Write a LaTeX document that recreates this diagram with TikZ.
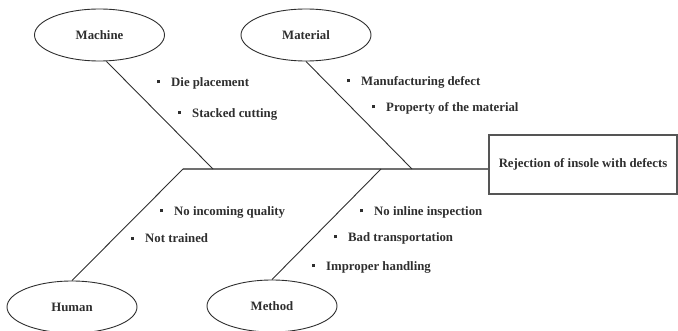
\documentclass[tikz,border=0pt]{standalone}
\usepackage{fontspec}
\setmainfont{Liberation Serif}
\usepackage{xcolor}
\usetikzlibrary{shapes.geometric}
\definecolor{ink}{HTML}{2E2E2E}
\definecolor{spine}{HTML}{707070}
\definecolor{frame}{HTML}{555555}
\tikzset{
  cat/.style={ellipse, draw=ink, line width=0.9pt, minimum width=130pt, minimum height=52pt, inner sep=0pt, text=ink, font=\fontsize{12.8}{15}\selectfont\bfseries},
  bone/.style={draw=ink, line width=0.9pt},
  spineln/.style={draw=spine, line width=1.4pt},
  effect/.style={rectangle, draw=frame, line width=1.2pt, minimum width=188pt, minimum height=59pt, inner sep=0pt, text=ink, font=\fontsize{12.8}{15}\selectfont\bfseries},
  cause/.style={anchor=west, inner sep=0pt, text=ink, font=\fontsize{12.8}{15}\selectfont\bfseries}
}
\newcommand{\itm}[1]{\rule[0.22em]{3pt}{3pt}\hspace{11pt}#1}

\begin{document}
\begin{tikzpicture}[x=1pt, y=-1pt]
  \useasboundingbox (0,0) rectangle (678,331);

  % categories
  \node[cat] (machine) at (99.5,35) {Machine};
  \node[cat] (material) at (306,35) {Material};
  \node[cat] (human) at (72,307) {Human};
  \node[cat] (method) at (272,306) {Method};

  % effect
  \node[effect] (effect) at (583,164.5) {Rejection of insole with defects};

  % spine and bones
  \coordinate (hd) at (183,169);
  \coordinate (mc) at (213,169);
  \coordinate (mt) at (412,169);
  \coordinate (me) at (381,169);
  \draw[spineln] (hd) -- (hd -| effect.west);
  \draw[bone] ([xshift=7pt]machine.south) -- (mc);
  \draw[bone] (material.south) -- (mt);
  \draw[bone] (hd) -- (human.north);
  \draw[bone] (me) -- (method.north);

  % causes
  \node[cause] (die) at (157,83) {\itm{Die placement}};
  \node[cause] (stack) at (178,114) {\itm{Stacked cutting}};
  \node[cause] (manu) at (347,82) {\itm{Manufacturing defect}};
  \node[cause] (prop) at (372,108) {\itm{Property of the material}};
  \node[cause] (noinc) at (160,212) {\itm{No incoming quality}};
  \node[cause] (nottr) at (131,238) {\itm{Not trained}};
  \node[cause] (noinl) at (360,212) {\itm{No inline inspection}};
  \node[cause] (badtr) at (334,238) {\itm{Bad transportation}};
  \node[cause] (improp) at (312,267) {\itm{Improper handling}};
\end{tikzpicture}
\end{document}
